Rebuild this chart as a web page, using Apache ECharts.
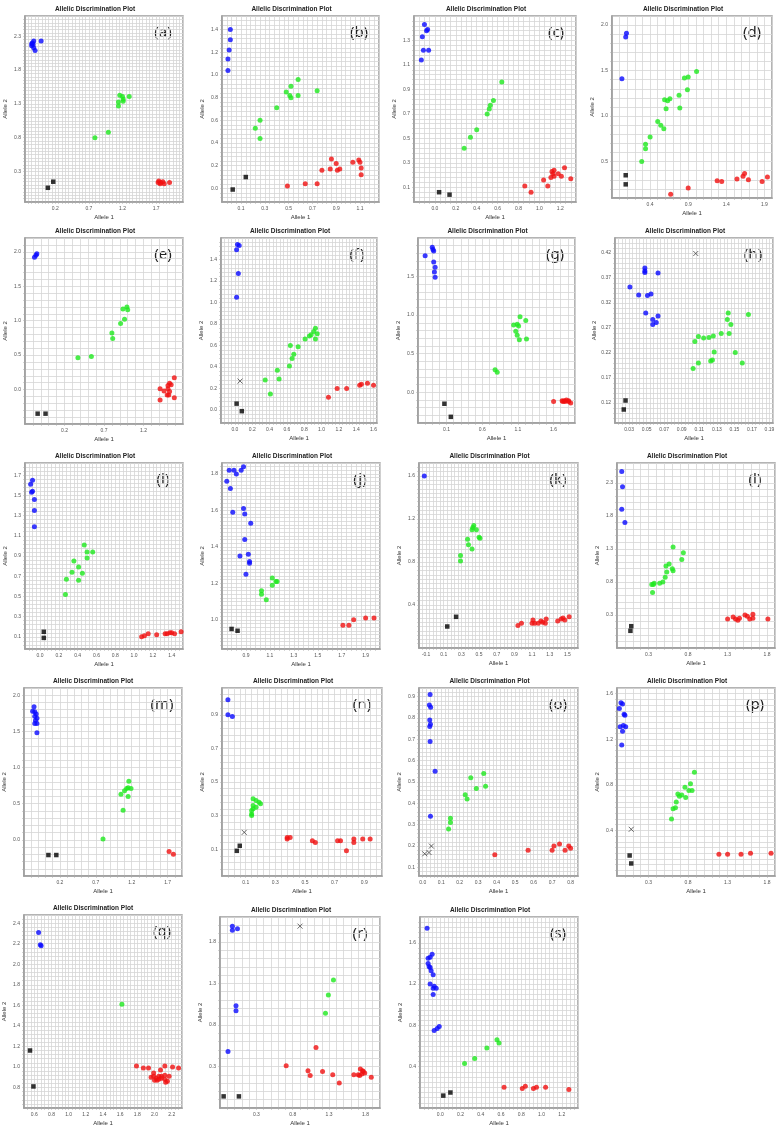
<!DOCTYPE html>
<html>
<head>
<meta charset="utf-8">
<script src="https://cdn.jsdelivr.net/npm/echarts@6/dist/echarts.min.js"></script>
<style>
  html, body { margin: 0; padding: 0; background: #fff; }
  #chart { width: 783px; height: 1133px; }
</style>
</head>
<body>
<div id="chart"></div>
<script>
// panel letters, in reading order
const panelNames = ['a','b','c','d','e','f','g','h','i','j','k','l','m','n','o','p','q','r','s'];

// plot box of every panel: [left, top, width, height]
const plotBoxes = [
  [25,16,158,186],[222,16,157,186],[414,16,162,186],[612,16,160,182],
  [25,238,158,186],[221,238,156,185],[418,238,157,185],[615,238,158,185],
  [25,463,158,186],[222,463,158,186],[419,463,159,185],[617,463,158,185],
  [22,688,160,188],[222,688,160,188],[419,688,159,188],[617,688,158,188],
  [22,915,160,193],[220,917,160,191],[420,917,158,191]
];

// axis ticks: [labelled value, label step, grid step, low end, high end]
const allele1Ticks = [
  [0.2,0.5,0.05,-0.26,2.09],[0.1,0.2,0.04,-0.07,1.25],[0.0,0.2,0.05,-0.216,1.327],[0.4,0.5,0.1,-0.078,1.99],
  [0.2,0.5,0.1,-0.274,1.747],[0.0,0.2,0.04,-0.167,1.65],[0.1,0.5,0.1,-0.305,1.933],[0.03,0.02,0.004,0.013,0.193],
  [0.0,0.2,0.04,-0.16,1.536],[0.9,0.2,0.04,0.709,2.007],[0.1,0.2,0.04,-0.197,1.634],[0.3,0.5,0.1,-0.129,1.909],
  [0.2,0.5,0.1,-0.286,1.936],[0.1,0.2,0.04,-0.058,1.023],[0.0,0.1,0.02,-0.018,0.845],[0.3,0.5,0.1,-0.112,1.927],
  [0.6,0.2,0.04,0.476,2.336],[0.3,0.5,0.1,-0.2,1.955],[0.0,0.2,0.04,-0.188,1.352]
];
const allele2Ticks = [
  [0.3,0.5,0.05,-0.17,2.6],[0.0,0.2,0.04,-0.13,1.5],[0.1,0.2,0.04,-0.023,1.508],[0.5,0.5,0.1,0.09,2.09],
  [0.0,0.5,0.1,-0.476,2.228],[0.0,0.2,0.04,-0.115,1.616],[0.0,0.5,0.1,-0.445,1.987],[0.12,0.05,0.01,0.075,0.448],
  [0.1,0.2,0.04,-0.018,1.811],[1.0,0.2,0.02,0.838,1.855],[0.4,0.4,0.04,0.017,1.722],[0.3,0.5,0.1,-0.171,2.593],
  [0.0,0.5,0.1,-0.459,2.109],[0.1,0.2,0.04,-0.044,1.067],[0.1,0.1,0.02,0.061,0.942],[0.4,0.4,0.05,0.006,1.655],
  [0.8,0.2,0.04,0.594,2.488],[0.3,0.5,0.1,-0.17,2.118],[0.4,0.4,0.05,0.0,1.87]
];

// allele 2 homozygotes (blue)
const blueDots = {
  a: [[-0.15,2.19],[-0.12,2.23],[-0.15,2.16],[-0.12,2.13],[-0.10,2.09],[-0.01,2.23],[-0.14,2.20],[-0.13,2.18]],
  b: [[0.01,1.40],[0.01,1.31],[0.00,1.22],[-0.01,1.14],[-0.01,1.04]],
  c: [[-0.10,1.43],[-0.07,1.39],[-0.08,1.38],[-0.12,1.33],[-0.11,1.22],[-0.06,1.22],[-0.13,1.14]],
  d: [[0.09,1.91],[0.08,1.87],[0.03,1.41]],
  e: [[-0.18,1.92],[-0.15,1.97],[-0.16,1.95]],
  f: [[0.03,1.54],[0.05,1.53],[0.02,1.49],[0.04,1.27],[0.02,1.05]],
  g: [[-0.10,1.88],[-0.09,1.85],[-0.08,1.83],[-0.20,1.77],[-0.08,1.69],[-0.06,1.62],[-0.07,1.56],[-0.06,1.49]],
  h: [[0.048,0.390],[0.048,0.384],[0.048,0.381],[0.063,0.380],[0.031,0.352],[0.041,0.336],[0.051,0.335],[0.055,0.338],[0.049,0.300],[0.057,0.287],[0.063,0.294],[0.057,0.277],[0.061,0.281]],
  i: [[-0.08,1.65],[-0.10,1.61],[-0.08,1.54],[-0.09,1.53],[-0.06,1.46],[-0.06,1.35],[-0.06,1.19]],
  j: [[0.76,1.82],[0.80,1.82],[0.82,1.80],[0.86,1.82],[0.88,1.84],[0.74,1.76],[0.77,1.72],[0.79,1.59],[0.88,1.61],[0.89,1.58],[0.94,1.53],[0.89,1.44],[0.92,1.36],[0.85,1.35],[0.93,1.32],[0.93,1.31],[0.90,1.25]],
  k: [[-0.12,1.60]],
  l: [[-0.04,2.47],[-0.03,2.24],[-0.04,1.90],[0.00,1.70]],
  m: [[-0.16,1.84],[-0.18,1.78],[-0.15,1.77],[-0.13,1.74],[-0.15,1.71],[-0.12,1.68],[-0.14,1.65],[-0.15,1.61],[-0.12,1.61],[-0.12,1.48]],
  n: [[-0.02,0.99],[-0.02,0.90],[0.01,0.89]],
  o: [[0.040,0.91],[0.036,0.86],[0.043,0.85],[0.038,0.79],[0.042,0.77],[0.038,0.76],[0.040,0.69],[0.067,0.55],[0.042,0.34]],
  p: [[-0.05,1.52],[-0.03,1.51],[-0.07,1.47],[-0.01,1.42],[0.00,1.41],[-0.06,1.31],[-0.02,1.32],[0.01,1.31],[-0.03,1.27],[-0.04,1.15]],
  q: [[0.65,2.31],[0.67,2.19],[0.68,2.18]],
  r: [[-0.03,1.99],[-0.03,1.94],[0.04,1.96],[0.02,1.03],[0.02,0.97],[-0.09,0.48]],
  s: [[-0.13,1.74],[-0.08,1.49],[-0.10,1.46],[-0.12,1.45],[-0.12,1.40],[-0.11,1.37],[-0.10,1.36],[-0.09,1.33],[-0.07,1.29],[-0.10,1.20],[-0.06,1.18],[-0.07,1.16],[-0.04,1.16],[-0.07,1.10],[-0.06,0.75],[-0.03,0.77],[-0.01,0.79]]
};

// heterozygotes (green)
const greenDots = {
  a: [[1.16,1.43],[1.20,1.41],[1.21,1.37],[1.21,1.34],[1.30,1.41],[1.14,1.33],[1.14,1.27],[0.99,0.88],[0.79,0.80]],
  b: [[0.58,0.96],[0.52,0.90],[0.48,0.85],[0.51,0.82],[0.52,0.80],[0.58,0.82],[0.74,0.86],[0.40,0.71],[0.26,0.60],[0.22,0.53],[0.26,0.44]],
  c: [[0.64,0.96],[0.56,0.81],[0.53,0.77],[0.52,0.74],[0.50,0.70],[0.40,0.57],[0.34,0.51],[0.28,0.42]],
  d: [[1.01,1.49],[0.90,1.43],[0.85,1.42],[0.89,1.29],[0.78,1.23],[0.66,1.19],[0.63,1.17],[0.59,1.18],[0.79,1.09],[0.61,1.08],[0.50,0.94],[0.54,0.90],[0.58,0.86],[0.40,0.77],[0.34,0.69],[0.34,0.64],[0.29,0.50]],
  e: [[0.94,1.17],[0.99,1.20],[1.00,1.16],[0.96,1.02],[0.91,0.96],[0.80,0.82],[0.81,0.74],[0.54,0.48],[0.37,0.46]],
  f: [[0.93,0.76],[0.95,0.71],[0.91,0.73],[0.88,0.70],[0.86,0.69],[0.93,0.66],[0.81,0.66],[0.73,0.59],[0.64,0.60],[0.68,0.52],[0.66,0.48],[0.63,0.41],[0.49,0.37],[0.51,0.29],[0.35,0.28],[0.41,0.15]],
  g: [[1.13,0.98],[1.21,0.93],[1.04,0.87],[1.09,0.88],[1.11,0.86],[1.07,0.79],[1.09,0.74],[1.12,0.68],[1.22,0.69],[0.78,0.29],[0.81,0.26]],
  h: [[0.143,0.300],[0.142,0.287],[0.146,0.277],[0.144,0.259],[0.166,0.297],[0.135,0.259],[0.126,0.254],[0.121,0.251],[0.115,0.250],[0.109,0.253],[0.105,0.243],[0.127,0.222],[0.151,0.221],[0.109,0.200],[0.123,0.204],[0.125,0.206],[0.159,0.200],[0.103,0.189]],
  i: [[0.47,1.01],[0.50,0.94],[0.56,0.94],[0.50,0.88],[0.36,0.85],[0.41,0.79],[0.34,0.74],[0.45,0.73],[0.28,0.67],[0.41,0.66],[0.27,0.52]],
  j: [[1.12,1.23],[1.15,1.21],[1.16,1.21],[1.12,1.19],[1.03,1.16],[1.03,1.14],[1.07,1.11]],
  k: [[0.44,1.14],[0.43,1.12],[0.42,1.10],[0.47,1.10],[0.37,1.01],[0.38,0.96],[0.42,0.92],[0.50,1.03],[0.51,1.02],[0.29,0.86],[0.29,0.81]],
  l: [[0.61,1.33],[0.74,1.24],[0.72,1.14],[0.56,1.07],[0.52,1.04],[0.60,1.00],[0.61,0.97],[0.53,0.95],[0.51,0.87],[0.48,0.80],[0.44,0.78],[0.37,0.78],[0.34,0.76],[0.36,0.76],[0.35,0.64]],
  m: [[1.16,0.81],[1.19,0.71],[1.15,0.72],[1.13,0.71],[1.10,0.68],[1.05,0.63],[1.15,0.60],[1.08,0.41],[0.80,0.01]],
  n: [[0.15,0.40],[0.17,0.39],[0.19,0.38],[0.20,0.37],[0.15,0.36],[0.17,0.35],[0.15,0.34],[0.14,0.33],[0.14,0.31],[0.14,0.30]],
  o: [[0.33,0.54],[0.26,0.52],[0.34,0.48],[0.29,0.47],[0.23,0.44],[0.24,0.42],[0.15,0.33],[0.15,0.31],[0.14,0.28]],
  p: [[0.88,0.91],[0.83,0.81],[0.76,0.78],[0.81,0.75],[0.85,0.75],[0.77,0.69],[0.72,0.71],[0.67,0.72],[0.69,0.70],[0.65,0.65],[0.64,0.60],[0.61,0.59],[0.59,0.50]],
  q: [[1.62,1.61]],
  r: [[1.36,1.34],[1.29,1.16],[1.25,0.94]],
  s: [[0.56,0.66],[0.58,0.63],[0.46,0.58],[0.34,0.48],[0.24,0.43]]
};

// allele 1 homozygotes (red)
const redDots = {
  a: [[1.74,0.16],[1.77,0.14],[1.80,0.15],[1.82,0.12],[1.90,0.14],[1.73,0.14],[1.76,0.12]],
  b: [[0.86,0.26],[0.90,0.22],[0.78,0.16],[0.85,0.17],[0.91,0.16],[0.93,0.17],[1.04,0.23],[1.09,0.25],[1.10,0.23],[1.11,0.18],[1.11,0.12],[0.49,0.02],[0.64,0.04],[0.74,0.04]],
  c: [[0.86,0.11],[0.92,0.06],[1.04,0.16],[1.08,0.11],[1.11,0.18],[1.12,0.23],[1.14,0.24],[1.13,0.21],[1.14,0.19],[1.18,0.21],[1.21,0.19],[1.24,0.26],[1.30,0.17]],
  d: [[0.67,0.14],[0.90,0.21],[1.28,0.29],[1.34,0.28],[1.54,0.31],[1.62,0.34],[1.64,0.37],[1.69,0.30],[1.87,0.28],[1.94,0.33]],
  e: [[1.59,0.17],[1.41,0.01],[1.46,-0.02],[1.51,0.06],[1.53,0.09],[1.55,0.07],[1.51,0.01],[1.53,-0.03],[1.50,-0.08],[1.52,-0.08],[1.59,-0.12],[1.41,-0.15]],
  f: [[1.08,0.12],[1.18,0.20],[1.29,0.20],[1.44,0.23],[1.46,0.24],[1.53,0.25],[1.60,0.23]],
  g: [[1.60,-0.12],[1.72,-0.11],[1.75,-0.11],[1.78,-0.10],[1.81,-0.11],[1.73,-0.12],[1.76,-0.12],[1.81,-0.12],[1.84,-0.14]],
  h: [],
  i: [[1.08,0.10],[1.11,0.11],[1.15,0.13],[1.24,0.12],[1.33,0.13],[1.35,0.13],[1.38,0.14],[1.40,0.14],[1.43,0.13],[1.50,0.15]],
  j: [[1.71,0.97],[1.76,0.97],[1.80,1.00],[1.90,1.01],[1.97,1.01]],
  k: [[0.94,0.21],[0.98,0.23],[1.10,0.23],[1.11,0.26],[1.13,0.23],[1.17,0.23],[1.20,0.25],[1.22,0.24],[1.25,0.23],[1.26,0.27],[1.39,0.25],[1.43,0.27],[1.45,0.28],[1.47,0.26],[1.52,0.29]],
  l: [[1.30,0.24],[1.37,0.27],[1.40,0.24],[1.43,0.22],[1.45,0.25],[1.52,0.30],[1.55,0.28],[1.58,0.24],[1.62,0.31],[1.62,0.25],[1.81,0.24]],
  m: [[1.72,-0.16],[1.78,-0.20]],
  n: [[0.38,0.17],[0.40,0.17],[0.38,0.16],[0.55,0.15],[0.57,0.14],[0.72,0.15],[0.74,0.15],[0.78,0.09],[0.83,0.16],[0.83,0.14],[0.89,0.16],[0.94,0.16]],
  o: [[0.39,0.16],[0.57,0.18],[0.70,0.18],[0.71,0.20],[0.74,0.21],[0.77,0.18],[0.79,0.20],[0.80,0.19]],
  p: [[1.19,0.19],[1.30,0.19],[1.47,0.19],[1.59,0.20],[1.85,0.20]],
  q: [[1.79,1.01],[1.87,0.99],[1.93,0.99],[2.12,1.01],[2.21,1.00],[2.28,0.99],[2.07,0.97],[1.99,0.94],[1.96,0.90],[1.99,0.91],[2.02,0.89],[2.05,0.91],[2.08,0.91],[2.12,0.92],[2.17,0.91],[2.00,0.87],[2.05,0.88],[2.03,0.87],[2.12,0.88],[2.13,0.85],[2.15,0.86],[2.08,0.89]],
  r: [[1.12,0.53],[0.71,0.31],[1.01,0.25],[1.04,0.19],[1.21,0.24],[1.35,0.20],[1.44,0.10],[1.64,0.20],[1.70,0.20],[1.73,0.27],[1.75,0.21],[1.77,0.24],[1.79,0.22],[1.72,0.19],[1.88,0.17],[1.76,0.25]],
  s: [[0.63,0.20],[0.84,0.21],[0.81,0.19],[0.92,0.19],[0.95,0.20],[1.04,0.20],[1.27,0.18]]
};

// no-template controls (black squares)
const blackSquares = {
  a: [[0.09,0.06],[0.17,0.15]], b: [[0.14,0.10],[0.03,-0.01]], c: [[0.04,0.06],[0.14,0.04]],
  d: [[0.08,0.35],[0.08,0.25]], e: [[-0.14,-0.35],[-0.04,-0.35]], f: [[0.02,0.06],[0.08,-0.01]],
  g: [[0.07,-0.15],[0.16,-0.32]], h: [[0.026,0.125],[0.024,0.107]], i: [[0.04,0.15],[0.04,0.09]],
  j: [[0.78,0.95],[0.83,0.94]], k: [[0.14,0.20],[0.24,0.29]], l: [[0.08,0.13],[0.07,0.06]],
  m: [[0.04,-0.21],[0.15,-0.21]], n: [[0.04,0.09],[0.06,0.12]], o: [],
  p: [[0.06,0.18],[0.08,0.11]], q: [[0.55,1.16],[0.59,0.81]], r: [[-0.15,-0.06],[0.06,-0.06]],
  s: [[0.03,0.12],[0.10,0.15]]
};

// undetermined calls (x marks)
const crossMarks = {
  f: [[0.06,0.27]], h: [[0.106,0.419]], n: [[0.09,0.20]],
  o: [[0.047,0.20],[0.034,0.17],[0.011,0.164]], p: [[0.08,0.41]], r: [[0.90,1.99]]
};

const snap = (v, base, step) => +(base + Math.round((v - base) / step) * step).toFixed(6);
const decimals = (n) => { const s = String(n); const i = s.indexOf('.'); return i < 0 ? 0 : s.length - i - 1; };

function makeAxis(spec, idx, isX) {
  const [base, major, minor, lo, hi] = spec;
  const dec = Math.max(decimals(base), decimals(major), 1);
  return {
    type: 'value',
    gridIndex: idx,
    min: snap(lo, base, minor),
    max: snap(hi, base, minor),
    interval: minor,
    name: isX ? 'Allele 1' : 'Allele 2',
    nameLocation: 'middle',
    nameGap: isX ? 12 : 17,
    nameTextStyle: { fontSize: 6, color: '#333', fontFamily: 'Liberation Sans' },
    axisLine: { show: true, onZero: false, lineStyle: { color: '#9c9c9c', width: 1.5 } },
    axisTick: { show: true, interval: 0, length: 2, lineStyle: { color: '#aaa', width: 0.5 } },
    axisLabel: {
      interval: 0, showMinLabel: false, showMaxLabel: false,
      fontSize: 5, color: '#555', margin: 4, fontFamily: 'Liberation Sans',
      formatter: (v) => {
        const k = (v - base) / major;
        if (Math.abs(k - Math.round(k)) > 1e-6) return '';
        if (Math.abs(v) < 1e-9) v = 0;
        return v.toFixed(dec);
      }
    },
    splitLine: { show: true, lineStyle: { color: '#d6d6d6', width: 0.8 } }
  };
}

const grids = [], xAxes = [], yAxes = [], series = [], graphics = [];
const crossPath = 'path://M0,0L10,10M10,0L0,10';

panelNames.forEach((p, i) => {
  const [left, top, width, height] = plotBoxes[i];
  grids.push({ left, top, width, height, show: true, backgroundColor: '#fff', borderColor: '#9c9c9c', borderWidth: 1.5 });
  xAxes.push(makeAxis(allele1Ticks[i], i, true));
  yAxes.push(makeAxis(allele2Ticks[i], i, false));

  const common = { type: 'scatter', xAxisIndex: i, yAxisIndex: i, silent: true };
  series.push({ ...common, data: blueDots[p] || [], symbol: 'circle', symbolSize: 5, itemStyle: { color: '#0a0aff' } });
  series.push({ ...common, data: greenDots[p] || [], symbol: 'circle', symbolSize: 5, itemStyle: { color: '#1ee81e' } });
  series.push({ ...common, data: redDots[p] || [], symbol: 'circle', symbolSize: 5, itemStyle: { color: '#f01010' } });
  series.push({ ...common, data: blackSquares[p] || [], symbol: 'rect', symbolSize: 4.5, itemStyle: { color: '#000' } });
  series.push({ ...common, data: crossMarks[p] || [], symbol: crossPath, symbolSize: 5,
    itemStyle: { color: 'transparent', borderColor: '#333', borderWidth: 0.9 } });

  // panel title and letter
  graphics.push({
    type: 'text', x: left + width / 2 - 9, y: top - 7, silent: true,
    style: { text: 'Allelic Discrimination Plot', font: 'bold 6.5px "Liberation Sans"', fill: '#222',
      textAlign: 'center', textVerticalAlign: 'middle' }
  });
  graphics.push({
    type: 'text', x: left + width - 20, y: top + 17, silent: true,
    style: { text: '(' + p + ')', font: '15px "Noto Sans"', fill: '#222',
      textAlign: 'center', textVerticalAlign: 'middle' }
  });
});

const chart = echarts.init(document.getElementById('chart'), null, { renderer: 'canvas' });
chart.setOption({
  animation: false,
  backgroundColor: '#fff',
  grid: grids,
  xAxis: xAxes,
  yAxis: yAxes,
  series: series,
  graphic: graphics
});
</script>
</body>
</html>
